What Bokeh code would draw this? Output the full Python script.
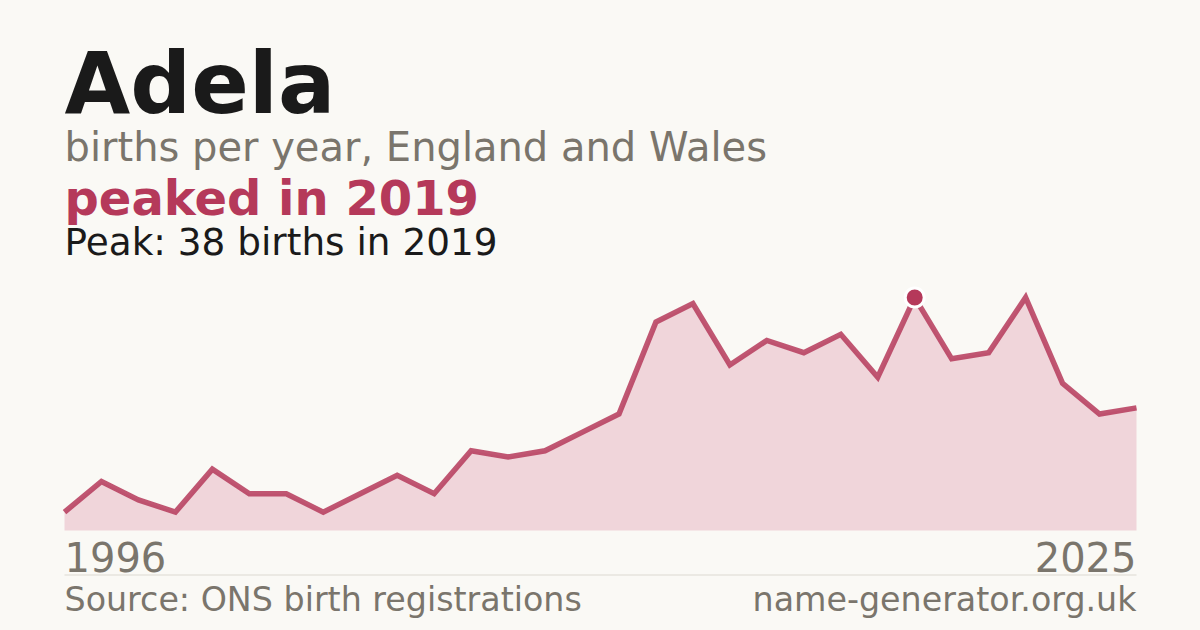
from bokeh.plotting import figure
from bokeh.models import Range1d, Label, BoxAnnotation, GlobalInlineStyleSheet
from bokeh.embed import file_html
from bokeh.resources import INLINE

# ---- data ----
years = list(range(1996, 2026))
births = [3, 8, 5, 3, 10, 6, 6, 3, 6, 9, 6, 13, 12, 13, 16, 19, 34, 37,
          27, 31, 29, 32, 25, 38, 28, 29, 38, 24, 19, 20]
peak_year = 2019
peak_value = 38
name = "Adela"
subtitle = "births per year, England and Wales"
headline = "peaked in 2019"
peak_text = "Peak: 38 births in 2019"
first_label = "1996"
last_label = "2025"
source_text = "Source: ONS birth registrations"
site_text = "name-generator.org.uk"

# ---- layout (window pixels) ----
BG = "#faf9f5"
ACCENT = "#b5395a"
GREY = "#7a756c"
DARK = "#1a1a1a"
FONT = "DejaVu Sans"

W, H = 1200, 630
plot_left, plot_right = 64, 1136
plot_top, plot_bottom = 297, 530
BASE_K = 0.32  # correction from Bokeh's baseline box to the alphabetic baseline

x0, x1 = years[0], years[-1]
ymax = max(births)
px_per_x = (plot_right - plot_left) / (x1 - x0)
px_per_y = (plot_bottom - plot_top) / ymax
xr = Range1d(x0 - plot_left / px_per_x, x1 + (W - plot_right) / px_per_x)
yr = Range1d(-(H - plot_bottom) / px_per_y, ymax + plot_top / px_per_y)

p = figure(width=W, height=H, x_range=xr, y_range=yr, output_backend="svg",
           toolbar_location=None, min_border=0)
p.axis.visible = False
p.grid.visible = False
p.outline_line_color = None
p.background_fill_color = BG
p.border_fill_color = BG
p.stylesheets = [GlobalInlineStyleSheet(css=f"html, body {{ background: {BG}; }}")]

p.varea(x=years, y1=[0] * len(years), y2=births, fill_color="#f0d5da", fill_alpha=1)
p.line(years, births, line_color=ACCENT, line_width=5.5, line_alpha=0.85, line_join="miter")
p.scatter([peak_year], [peak_value], size=19, fill_color=ACCENT, line_color="white", line_width=3)


def sy(y):
    return H - y


def lab(text, x, y, size, color, bold=False, align="left"):
    p.add_layout(Label(x=x, y=sy(y) + BASE_K * size, x_units="screen", y_units="screen",
                       text=text, text_font=FONT, text_font_size=f"{size}px", text_color=color,
                       text_font_style="bold" if bold else "normal", text_align=align,
                       text_baseline="alphabetic"))


lab(name, 64, 110, 85, DARK, bold=True)
lab(subtitle, 64, 159, 40, GREY)
lab(headline, 64, 213, 48, ACCENT, bold=True)
lab(peak_text, 64, 253, 37.4, DARK)
lab(first_label, 64, 569, 40, GREY)
lab(last_label, 1136, 569, 40, GREY, align="right")
lab(source_text, 64, 610, 33.3, GREY)
lab(site_text, 1136, 610, 33.3, GREY, align="right")

p.add_layout(BoxAnnotation(left=64, right=1136, bottom=sy(575), top=sy(574),
                           left_units="screen", right_units="screen",
                           bottom_units="screen", top_units="screen",
                           fill_color="#dcd9d2", fill_alpha=1, line_color=None))

open("out.html", "w").write(file_html(p, INLINE))
